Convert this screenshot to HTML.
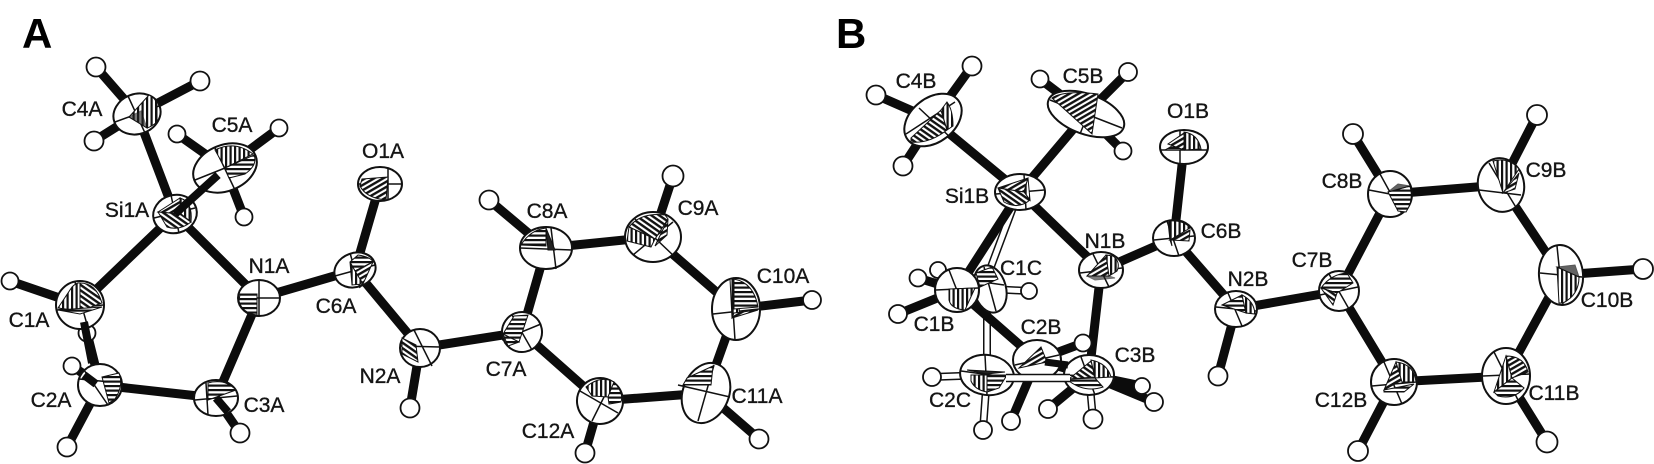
<!DOCTYPE html>
<html><head><meta charset="utf-8"><style>
html,body{margin:0;padding:0;background:#fff}
svg{display:block;filter:blur(.35px)}
text{font-family:"Liberation Sans",sans-serif;font-size:21px;fill:#151515;stroke:#151515;stroke-width:.35;text-anchor:middle}
.P{font-size:42px;font-weight:700;fill:#000;stroke:none;text-anchor:start}
.b{stroke:#0c0c0c;fill:none;stroke-linecap:butt}
.o{fill:none;stroke-linecap:butt}
.h circle{fill:#fff;stroke:#111;stroke-width:1.8}
.a ellipse{fill:#fff;stroke:#111;stroke-width:2}
.a path{stroke:#111;stroke-width:1}
.l{fill:none;stroke-width:1.5!important}
.H{fill:url(#pH)}.V{fill:url(#pV)}.D{fill:url(#pD)}.E{fill:url(#pE)}.K{fill:#222}
</style></head><body>
<svg xmlns="http://www.w3.org/2000/svg" width="1654" height="464" viewBox="0 0 1654 464">
<defs>
<pattern id="pH" width="4" height="4.5" patternUnits="userSpaceOnUse"><rect width="4" height="4.5" fill="#fff"/><rect width="4" height="2.2" fill="#111"/></pattern>
<pattern id="pV" width="4.5" height="4" patternUnits="userSpaceOnUse"><rect width="4.5" height="4" fill="#fff"/><rect width="2.2" height="4" fill="#111"/></pattern>
<pattern id="pD" width="4.5" height="4.5" patternUnits="userSpaceOnUse" patternTransform="rotate(-30)"><rect width="4.5" height="4.5" fill="#fff"/><rect width="4.5" height="2.4" fill="#111"/></pattern>
<pattern id="pE" width="4.5" height="4.5" patternUnits="userSpaceOnUse" patternTransform="rotate(35)"><rect width="4.5" height="4.5" fill="#fff"/><rect width="4.5" height="2.4" fill="#111"/></pattern>
</defs>
<rect width="1654" height="464" fill="#fff"/>
<text class="P" x="22" y="48">A</text>
<text class="P" x="836" y="48">B</text>

<!-- Panel A bonds -->
<path class="b" stroke-width="9" d="M175 214L137 114M175 214L80 305M175 214L259 298M259 298L355 270M259 298L216 398M216 398L100 385M100 385L80 305M355 270L380 184M355 270L420 348M420 348L522 332M522 332L546 248M546 248L653 237M653 237L736 309M736 309L706 393M706 393L600 401M600 401L522 332"/>
<path class="b" stroke-width="9" d="M137 114L96 67M137 114L200 81M137 114L94 141M225 168L177 134M225 168L279 128M225 168L244 217M80 305L10 281M100 385L72 366M100 385L67 447M216 398L240 433M420 348L410 408M546 248L489 200M653 237L673 176M736 309L812 300M706 393L759 439M600 401L585 453"/>
<g class="h">
<circle cx="96" cy="67" r="9.5"/><circle cx="200" cy="81" r="9.5"/><circle cx="94" cy="141" r="9.5"/><circle cx="177" cy="134" r="8.5"/><circle cx="279" cy="128" r="8.5"/><circle cx="244" cy="217" r="8.5"/><circle cx="10" cy="281" r="8.5"/><circle cx="87" cy="333" r="8.5"/><circle cx="72" cy="366" r="8.5"/><circle cx="67" cy="447" r="9.5"/><circle cx="240" cy="433" r="9.5"/><circle cx="410" cy="408" r="9.5"/><circle cx="489" cy="200" r="9.5"/><circle cx="673" cy="176" r="10.5"/><circle cx="812" cy="300" r="9"/><circle cx="759" cy="439" r="9.5"/><circle cx="585" cy="453" r="9.5"/>
</g>
<!-- Panel A atoms -->
<g class="a">
<g transform="translate(137,114)"><ellipse rx="24" ry="20" transform="rotate(-20)"/><path class="l" d="M-22 8L22-8M-9-18L8 19"/><path class="V" d="M-8 3L12-19Q20-15 20-8L20 8Q14 13 10 14Z"/><path class="K" d="M-8 3L4-3L10 14Z" opacity=".6"/></g>
<g transform="translate(225,168)"><ellipse rx="33" ry="23" transform="rotate(-22)"/><path class="l" d="M-30 12L30-12M-10-20L10 22"/><path class="V" d="M-10-18Q10-28 28-14L0 0Z"/><path class="H" d="M0 0L29-13Q33-3 20 6L4 10Z"/></g>
<g transform="translate(175,214)"><ellipse rx="22" ry="19" transform="rotate(-15)"/><path class="l" d="M-21 4L20-6M-4-19L4 19"/><path class="D" d="M-17-2L5-16L6 0Z"/><path class="V" d="M5-16Q18-12 16 8L6 0Z"/><path class="E" d="M-17-2L6 0L16 8Q5 17-8 13Z"/></g>
<g transform="translate(80,305)"><ellipse rx="24" ry="24"/><path class="l" d="M-23 5L23 0M-5-23L8 23"/><path class="V" d="M-22 3L-8-18Q-3-23 0-22L0 6Z"/><path class="E" d="M0-22Q16-22 22-2L0 6Z"/><path class="H" d="M-22 5L22 2L0 9Z"/></g>
<g transform="translate(259,298)"><ellipse rx="21" ry="18"/><path class="l" d="M-20 0L20 0M0-17L0 18"/><path class="H" d="M-19-4L-2-4L-2 17Q-17 15-20 3Z"/></g>
<g transform="translate(355,270)"><ellipse rx="21" ry="17" transform="rotate(-20)"/><path class="l" d="M-20 6L20-5M-5-17L5 18"/><path class="H" d="M-5-8L3-15Q16-13 18-8L0 1Z"/><path class="D" d="M0 1L18-8L8 14Z"/><path class="V" d="M-5-8L0 1L8 14L-3 15Z"/></g>
<g transform="translate(380,184)"><ellipse rx="22" ry="17"/><path class="l" d="M-22 0L22 0M8-16L8 16"/><path class="D" d="M-18-5L8-7L6 16Q-14 14-20 2Z"/></g>
<g transform="translate(100,385)"><ellipse rx="22" ry="21"/><path class="l" d="M-21-6L21-2M-16-15L8 20"/><path class="H" d="M2-8L19-12Q24 0 15 14L9 18Z"/></g>
<g transform="translate(216,398)"><ellipse rx="22" ry="18"/><path class="l" d="M-21 2L21-2M-10-15L-8 17"/><path class="H" d="M-8-15Q8-20 20-8L-8 2Z"/></g>
<g transform="translate(420,348)"><ellipse rx="20" ry="19"/><path class="l" d="M-20-2L20-1M-6-18L12 18"/><path class="E" d="M-18-10L-4-3L-2 14L-18 6Z"/></g>
<g transform="translate(522,332)"><ellipse rx="20" ry="20" transform="rotate(-10)"/><path class="l" d="M-20 8L19-8M-10-17L10 18"/><path class="H" d="M-19 2L-8-16L6-17L-3 10Z"/><path class="H" d="M-19 2L-3 10L-14 14Z"/></g>
<g transform="translate(546,248)"><ellipse rx="26" ry="21"/><path class="l" d="M-26 0L26 2M5-20L10 21"/><path class="H" d="M-25-3Q-16-18 0-20L0-2Z"/><path class="K" d="M0-20L9 2L2 2Z"/></g>
<g transform="translate(653,237)"><ellipse rx="28" ry="25"/><path class="l" d="M-20 18L20-15M-18-18L22 20"/><path class="E" d="M-24-10Q-12-25 12-22L15-18L2 2Z"/><path class="V" d="M-24-10L2 2L-2 10L-26 4Z"/><path class="D" d="M15-18L2 9L14-2Z"/></g>
<g transform="translate(736,309)"><ellipse rx="24" ry="31"/><path class="l" d="M-23 5L23 0M-5-30L-1 31"/><path class="V" d="M-6-30L-4 9L4 5L-2-30Z"/><path class="H" d="M-2-30Q18-26 22-2L-2 0Z"/><path class="D" d="M-4 9L22 1L-2 4Z"/></g>
<g transform="translate(706,393)"><ellipse rx="23" ry="31" transform="rotate(22)"/><path class="l" d="M-28-8L24 4M8-28L-8 28"/><path class="H" d="M-19-15L7-27L5-8L-23-8Z"/></g>
<g transform="translate(600,401)"><ellipse rx="23" ry="23" transform="rotate(-10)"/><path class="l" d="M-20-10L18 12M12-20L-8 20"/><path class="V" d="M-14-14Q0-26 14-19L8-4L-8 -5Z"/><path class="H" d="M14-19Q24-8 21 1L9 3L8-4Z"/></g>
</g>
<path class="b" stroke-width="8" d="M175 214L218 175M84 322L92 363M216 398L228 412M96 384L84 375"/>

<!-- Panel B open bonds behind -->
<path class="o" stroke="#111" stroke-width="8" d="M1014 205L986 280M987 295L987 375M990 289L1029 291M987 375L932 377M987 375L983 430"/>
<path class="o" stroke="#fff" stroke-width="5" d="M1014 205L986 280M987 295L987 375M990 289L1029 291M987 375L932 377M987 375L983 430"/>
<!-- Panel B bonds -->
<path class="b" stroke-width="9" d="M1020 192L933 120M1020 192L1086 114M1020 192L957 290M1020 192L1101 270M1101 270L1174 238M1101 270L1089 375M957 290L1037 360M1037 360L1089 375M1174 238L1184 147M1174 238L1236 309M1236 309L1339 291M1339 291L1390 194M1390 194L1501 185M1501 185L1561 275M1561 275L1506 376M1506 376L1394 382M1394 382L1339 291"/>
<path class="b" stroke-width="9" d="M933 120L876 95M933 120L972 66M933 120L903 166M1086 114L1040 79M1086 114L1128 72M1086 114L1123 151M957 290L918 278M957 290L938 270M957 290L898 314M1037 360L1083 343M1037 360L1011 421M1089 375L1048 409M1089 375L1154 402M1089 375L1142 386M1236 309L1218 376M1390 194L1353 134M1501 185L1537 115M1561 275L1643 269M1506 376L1547 442M1394 382L1358 451"/>
<path class="o" stroke="#111" stroke-width="8" d="M1089 375L1093 419"/>
<path class="o" stroke="#fff" stroke-width="5" d="M1089 375L1093 419"/>
<g class="h">
<circle cx="876" cy="95" r="9.5"/><circle cx="972" cy="66" r="9.5"/><circle cx="903" cy="166" r="9.5"/><circle cx="1040" cy="79" r="8.5"/><circle cx="1128" cy="72" r="9"/><circle cx="1123" cy="151" r="8.5"/><circle cx="938" cy="270" r="8"/><circle cx="918" cy="278" r="8.5"/><circle cx="898" cy="314" r="9"/><circle cx="1029" cy="291" r="8"/><circle cx="1083" cy="343" r="8.5"/><circle cx="1011" cy="421" r="9"/><circle cx="932" cy="377" r="9"/><circle cx="983" cy="430" r="9"/><circle cx="1048" cy="409" r="9"/><circle cx="1093" cy="419" r="9.5"/><circle cx="1142" cy="386" r="8"/><circle cx="1154" cy="402" r="9"/><circle cx="1218" cy="376" r="9.5"/><circle cx="1353" cy="134" r="10"/><circle cx="1537" cy="115" r="10"/><circle cx="1643" cy="269" r="10"/><circle cx="1547" cy="442" r="10.5"/><circle cx="1358" cy="451" r="10"/>
</g>
<g class="a">
<g transform="translate(933,120)"><ellipse rx="32" ry="22" transform="rotate(-38)"/><path class="l" d="M-27 14L22-18M-14-12L18 18"/><path class="E" d="M-22 18L8-10L14 10Q-4 24-22 22Z"/><path class="V" d="M8-10L14-18Q20-10 20 6L14 10Z"/></g>
<g transform="translate(1086,114)"><ellipse rx="40" ry="20" transform="rotate(20)"/><path class="l" d="M-36-14L36 14M10-20L-6 20"/><path class="D" d="M-34-16Q-22-24 12-20L6 20Z"/></g>
<g transform="translate(1020,192)"><ellipse rx="25" ry="18"/><path class="l" d="M-24 2L24-2M4-18L6 18"/><path class="D" d="M-22-4L8-14L4 0Z"/><path class="V" d="M8-14L10 8L4 0Z"/><path class="E" d="M-22-4L4 0L10 8Q-2 18-16 10Z"/></g>
<g transform="translate(1101,270)"><ellipse rx="22" ry="18"/><path class="l" d="M-21 3L21-2M-8-16L8 17"/><path class="D" d="M-14 6L5-15Q12-14 14-10L8 6Z"/><path class="V" d="M5-15L8 6L16 1Q20-8 12-14Z"/><path class="K" d="M-14 6L8 6L14 8L-6 10Z" opacity=".6"/></g>
<g transform="translate(1174,238)"><ellipse rx="21" ry="18"/><path class="l" d="M-20 2L20-2M-7-17L5 18"/><path class="V" d="M-5-17Q10-18 16-10L-4 2Z"/><path class="D" d="M-4 2L16-8L15 3Z"/><path class="K" d="M-6-16L-4 2L-2 8Z"/></g>
<g transform="translate(1184,147)"><ellipse rx="24" ry="17"/><path class="l" d="M-23 3L23 3M-4-16L-4 16"/><path class="D" d="M-16-3L0-14L0 3Z"/><path class="V" d="M0-15Q14-13 17 2L0 3Z"/><path class="H" d="M-19 3L0 3L-12-1Z"/></g>
<!-- C1C behind C1B -->
<g transform="translate(990,289)"><ellipse rx="16" ry="24" transform="rotate(-15)"/><path class="l" d="M-14-8L14-4M-6-22L6 22"/><path class="H" d="M-14-16L2-22L8-10L-10-2Z"/></g>
<g transform="translate(957,290)"><ellipse rx="22" ry="22"/><path class="l" d="M-21 0L21-2M-8-20L8 21"/><path class="V" d="M-8-1L18-2L8 20Q-6 19-8 10Z"/></g>
<g transform="translate(1037,360)"><ellipse rx="24" ry="20"/><path class="l" d="M-22 5L22-5"/><path class="D" d="M-18 8L4-13L10 2Z"/></g>
<g transform="translate(987,375)"><ellipse rx="27" ry="20" transform="rotate(8)"/><path class="l" d="M-26-4L26 3M-2-20L0 20"/><path class="V" d="M-16 0L0 0L0 17Q-12 15-16 6Z"/><path class="H" d="M0 0L20 0L12 13L0 17Z"/><path class="K" d="M-20-5L18-3L0-1Z"/></g>
<g transform="translate(1089,375)"><ellipse rx="25" ry="20"/><path class="l" d="M-25 0L25 2M-8-18L6 20"/><path class="E" d="M-20 4L2-14L6 2Z"/><path class="V" d="M2-15Q18-12 22 2L6 3Z"/><path class="H" d="M-20 4L6 3L14 12Q-4 18-20 6Z"/></g>
<g transform="translate(1236,309)"><ellipse rx="21" ry="18"/><path class="l" d="M-20-2L20 2M-8-16L6 17"/><path class="H" d="M-14-4L6-14L10 4Z"/><path class="V" d="M6-14Q18-8 19 5L10 4Z"/></g>
<g transform="translate(1339,291)"><ellipse rx="20" ry="20"/><path class="l" d="M-19 4L19-4M-10-17L10 18"/><path class="H" d="M-18-3Q-8-17 8-18L14-8L-2 2Z"/><path class="E" d="M-18-3L-2 2L-6 14Z"/></g>
<g transform="translate(1390,194)"><ellipse rx="22" ry="23"/><path class="l" d="M-21-4L21 4M-10-20L12 20"/><path class="H" d="M-2-2L20-8Q24 6 16 18L8 17Z"/><path class="K" d="M-2-2L20-8L8-10Z" opacity=".7"/></g>
<g transform="translate(1501,185)"><ellipse rx="23" ry="27" transform="rotate(-12)"/><path class="l" d="M-22 5L20 10M-12-22L16 24"/><path class="V" d="M-8-24Q8-28 18-16L2 8Z"/><path class="D" d="M18-12L2 8L14 4Z"/></g>
<g transform="translate(1561,275)"><ellipse rx="22" ry="30" transform="rotate(-5)"/><path class="l" d="M-21-2L21 2M-4-29L2 30"/><path class="V" d="M-4-8L18 2Q18 20 2 28L-2 28Z"/><path class="K" d="M-4-8L18 2L14-10Z" opacity=".7"/></g>
<g transform="translate(1506,376)"><ellipse rx="24" ry="28"/><path class="l" d="M-23 0L24-2M-12-24L12 24"/><path class="V" d="M-12 16L0-20L6 2Z"/><path class="D" d="M0-20Q18-20 22-4L6 2Z"/><path class="H" d="M-12 16L6 2L18 12Q8 24-8 20Z"/></g>
<g transform="translate(1394,382)"><ellipse rx="23" ry="23"/><path class="l" d="M-22 4L22 0M-10-20L8 22"/><path class="D" d="M-10 8L2-20L8-2Z"/><path class="V" d="M2-20Q20-18 22 0L8 0Z"/><path class="H" d="M-10 8L20 2L10 10L-10 10Z"/></g>
</g>
<path class="b" stroke-width="7" d="M1045 362L1068 365"/>
<path class="o" stroke="#111" stroke-width="8.5" d="M1006 378L1070 378"/>
<path class="o" stroke="#fff" stroke-width="5.5" d="M1006 378L1070 378"/>

<!-- Labels A -->
<text x="82" y="116">C4A</text><text x="232" y="132">C5A</text><text x="127" y="217">Si1A</text><text x="383" y="158">O1A</text><text x="269" y="273">N1A</text><text x="336" y="313">C6A</text><text x="29" y="327">C1A</text><text x="51" y="407">C2A</text><text x="264" y="412">C3A</text><text x="380" y="383">N2A</text><text x="506" y="376">C7A</text><text x="547" y="218">C8A</text><text x="698" y="215">C9A</text><text x="783" y="283">C10A</text><text x="757" y="403">C11A</text><text x="548" y="438">C12A</text>
<!-- Labels B -->
<text x="916" y="88">C4B</text><text x="1083" y="83">C5B</text><text x="1188" y="118">O1B</text><text x="967" y="203">Si1B</text><text x="1105" y="248">N1B</text><text x="1021" y="275">C1C</text><text x="934" y="331">C1B</text><text x="1041" y="334">C2B</text><text x="1135" y="362">C3B</text><text x="950" y="407">C2C</text><text x="1221" y="238">C6B</text><text x="1248" y="286">N2B</text><text x="1312" y="267">C7B</text><text x="1342" y="188">C8B</text><text x="1546" y="177">C9B</text><text x="1607" y="307">C10B</text><text x="1554" y="400">C11B</text><text x="1341" y="407">C12B</text>
</svg>
</body></html>
